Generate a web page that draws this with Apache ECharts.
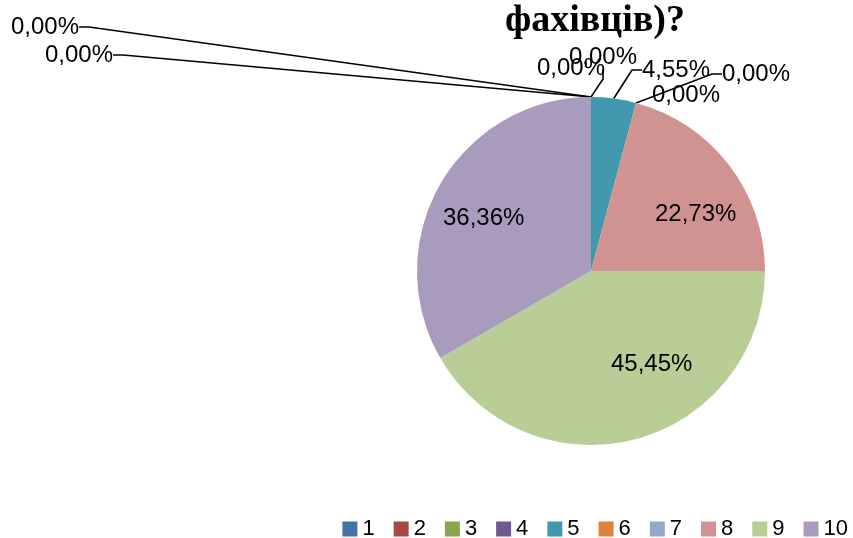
<!DOCTYPE html>
<html>
<head>
<meta charset="utf-8">
<script src="https://cdn.jsdelivr.net/npm/echarts@6/dist/echarts.min.js"></script>
<style>
  html,body{margin:0;padding:0;background:#fff;}
  #chart_wrap{width:853px;height:538px;}
</style>
</head>
<body>
<div id="chart_wrap"></div>
<script>
// data
var categories=['1','2','3','4','5','6','7','8','9','10'];
var values=[0,0,0,0,1,0,0,5,10,8];
var labelTexts=['0,00%','0,00%','0,00%','0,00%','4,55%','0,00%','0,00%','22,73%','45,45%','36,36%'];
var colors=['#4572a7','#aa4643','#89a54e','#71588f','#4198af','#db843d','#93a9cf','#d19392','#b9cd96','#a99bbd'];
// where each label sits (left edge, middle y)
var labelSpots=[[11,27],[45,55],[537,68],[569,57],[642,70],[722,74],[652,95],[655,214],[611,364],[443,218]];
var noLineIdx=[2,6,7,8,9];

var objChart=echarts.init(document.getElementById('chart_wrap'));
var labelFont='Liberation Sans';

var pieData=categories.map(function(name,i){
  var item={name:name,value:values[i],itemStyle:{color:colors[i]}};
  if(noLineIdx.indexOf(i)>=0){
    item.labelLine={show:false};
  }
  return item;
});

var option={
  animation:false,
  title:{
    text:'фахівців)?',
    left:500,
    top:-3,
    textStyle:{
      fontFamily:'Liberation Serif',
      fontWeight:'bold',
      fontSize:38,
      color:'#000'
    }
  },
  legend:{
    data:categories,
    right:0,
    top:513,
    itemWidth:15,
    itemHeight:15,
    itemGap:19,
    icon:'rect',
    textStyle:{fontFamily:labelFont,fontSize:22,color:'#000'}
  },
  series:[{
    type:'pie',
    center:[591,271],
    radius:174,
    startAngle:90,
    clockwise:true,
    minAngle:0,
    avoidLabelOverlap:false,
    showEmptyCircle:false,
    stillShowZeroSum:true,
    itemStyle:{borderWidth:0},
    label:{
      show:true,
      position:'outside',
      formatter:function(p){return labelTexts[p.dataIndex];},
      fontFamily:labelFont,
      fontSize:24,
      color:'#000'
    },
    labelLine:{
      show:true,
      length:10,
      length2:10,
      lineStyle:{color:'#000',width:1.6}
    },
    labelLayout:function(p){
      var s=labelSpots[p.dataIndex];
      return {x:s[0],y:s[1],align:'left',verticalAlign:'middle'};
    },
    emphasis:{disabled:true},
    data:pieData
  }]
};

objChart.setOption(option);
</script>
</body>
</html>
